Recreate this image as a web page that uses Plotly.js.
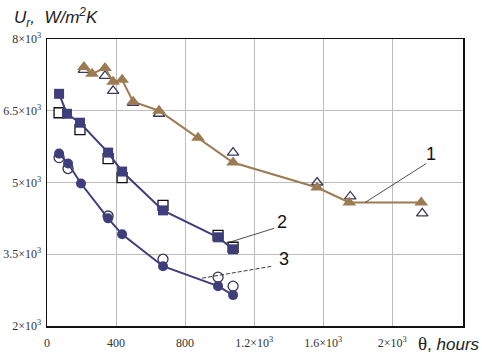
<!DOCTYPE html>
<html>
<head>
<meta charset="utf-8">
<script src="https://cdn.plot.ly/plotly-3.0.1.min.js"></script>
<style>html,body{margin:0;padding:0;background:#fff;}#chart{width:482px;height:354px;}</style>
</head>
<body>
<div id="chart"></div>
<script>
// Series 1 (triangles)
const t1 = [214, 261, 336, 383, 435, 499, 649, 875, 1078, 1565, 1751, 2168];
const u1 = [7417, 7271, 7396, 7104, 7146, 6688, 6500, 5938, 5417, 4896, 4583, 4583];
const t1o = [214, 336, 383, 499, 649, 1078, 1565, 1757, 2174];
const u1o = [7354, 7229, 6917, 6667, 6437, 5625, 5000, 4708, 4354];
// Series 2 (squares)
const t2 = [70, 116, 191, 354, 435, 672, 991, 1078];
const u2 = [6854, 6437, 6250, 5625, 5229, 4417, 3854, 3604];
const t2o = [70, 191, 354, 435, 672, 991, 1078];
const u2o = [6458, 6104, 5500, 5104, 4521, 3896, 3646];
// Series 3 (circles)
const t3 = [70, 122, 197, 354, 435, 672, 991, 1078];
const u3 = [5604, 5396, 4979, 4250, 3917, 3250, 2833, 2646];
const t3o = [70, 122, 354, 672, 991, 1078];
const u3o = [5521, 5292, 4300, 3396, 3021, 2833];
// Ticks
const xTickVals = [0, 400, 800, 1200, 1600, 2000];
const xTickText = ['0', '400', '800', '1.2×10<sup>3</sup>', '1.6×10<sup>3</sup>', '2×10<sup>3</sup>'];
const yTickVals = [2000, 3500, 5000, 6500, 8000];
const yTickText = ['2×10<sup>3</sup>', '3.5×10<sup>3</sup>', '5×10<sup>3</sup>', '6.5×10<sup>3</sup>', '8×10<sup>3</sup>'];
// Curve labels
const curveLabels = ['1', '2', '3'];

const brown = '#9c7b52';
const navy = '#3e3e7c';

const traces = [
  {x: t1o, y: u1o, mode: 'markers', type: 'scatter',
   marker: {symbol: 'triangle-up-open', size: 10, color: '#3a3a5a', line: {width: 1.3}}},
  {x: t2o, y: u2o, mode: 'markers', type: 'scatter',
   marker: {symbol: 'square', size: 10, color: '#ffffff', line: {color: '#111', width: 1.3}}},
  {x: t3o, y: u3o, mode: 'markers', type: 'scatter',
   marker: {symbol: 'circle', size: 10, color: '#ffffff', line: {color: '#333355', width: 1.3}}},
  {x: t1, y: u1, mode: 'lines+markers', type: 'scatter',
   line: {color: brown, width: 2},
   marker: {symbol: 'triangle-up', size: 12, color: brown}},
  {x: t2, y: u2, mode: 'lines+markers', type: 'scatter',
   line: {color: navy, width: 2},
   marker: {symbol: 'square', size: 10, color: navy}},
  {x: t3, y: u3, mode: 'lines+markers', type: 'scatter',
   line: {color: navy, width: 2},
   marker: {symbol: 'circle', size: 10, color: navy}}
];

const tickFont = {family: 'Liberation Serif, serif', size: 12, color: '#333'};

const layout = {
  width: 482, height: 354,
  margin: {l: 47, r: 19, t: 39, b: 28},
  paper_bgcolor: '#fff', plot_bgcolor: '#fff',
  showlegend: false,
  xaxis: {range: [0, 2410], tickvals: xTickVals, ticktext: xTickText,
    showgrid: true, gridcolor: '#bdbdbd', gridwidth: 1, zeroline: false,
    showline: true, linecolor: '#111', linewidth: 1.5, mirror: true,
    ticks: '', tickfont: tickFont, ticklabelstandoff: 5},
  yaxis: {range: [2000, 8000], tickvals: yTickVals, ticktext: yTickText,
    showgrid: true, gridcolor: '#bdbdbd', gridwidth: 1, zeroline: false,
    showline: true, linecolor: '#111', linewidth: 1.5, mirror: true,
    ticks: '', tickfont: tickFont, ticklabelstandoff: 2},
  shapes: [
    {type: 'line', xref: 'x', yref: 'y', x0: 1843, y0: 4583, x1: 2197, y1: 5396, line: {color: '#222', width: 0.8}},
    {type: 'line', xref: 'x', yref: 'y', x0: 1038, y0: 3729, x1: 1316, y1: 4042, line: {color: '#222', width: 0.8}},
    {type: 'line', xref: 'x', yref: 'y', x0: 899, y0: 3000, x1: 1304, y1: 3250, line: {color: '#222', width: 0.9, dash: '4px,2px'}}
  ],
  annotations: [
    {xref: 'x', yref: 'y', x: 2226, y: 5600, text: curveLabels[0], showarrow: false, font: {family: 'Liberation Sans, Arial', size: 18, color: '#111'}},
    {xref: 'x', yref: 'y', x: 1362, y: 4180, text: curveLabels[1], showarrow: false, font: {family: 'Liberation Sans, Arial', size: 18, color: '#111'}},
    {xref: 'x', yref: 'y', x: 1374, y: 3400, text: curveLabels[2], showarrow: false, font: {family: 'Liberation Sans, Arial', size: 18, color: '#111'}},
    {xref: 'paper', yref: 'paper', x: -0.085, y: 1.0, yshift: 22, xanchor: 'left', yanchor: 'middle',
     text: '<i>U<sub>r</sub>,  W/m<sup>2</sup>K</i>', showarrow: false,
     font: {family: 'Liberation Sans, Arial', size: 17, color: '#222'}},
    {xref: 'paper', yref: 'paper', x: 1.045, y: 0, yshift: -17, xanchor: 'right', yanchor: 'middle',
     text: '<span style="font-family:Liberation Serif;font-size:19px">θ</span>, <i>hours</i>', showarrow: false,
     font: {family: 'Liberation Sans, Arial', size: 17, color: '#222'}}
  ]
};

Plotly.newPlot('chart', traces, layout, {displayModeBar: false, staticPlot: true});
</script>
</body>
</html>
